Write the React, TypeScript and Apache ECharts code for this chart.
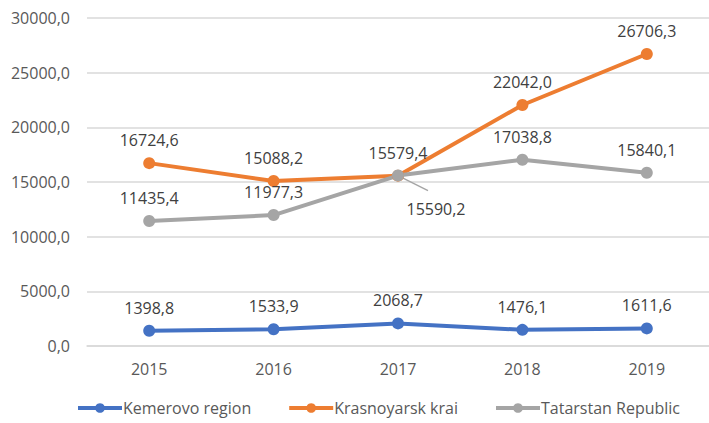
import React, { useEffect, useRef } from "react";
import * as echarts from "echarts";

const years = ["2015", "2016", "2017", "2018", "2019"];
const kemerovo = [1398.8, 1533.9, 2068.7, 1476.1, 1611.6];
const krasnoyarsk = [16724.6, 15088.2, 15579.4, 22042.0, 26706.3];
const tatarstan = [11435.4, 11977.3, 15590.2, 17038.8, 15840.1];
const seriesNames = ["Kemerovo region", "Krasnoyarsk krai", "Tatarstan Republic"];
const colors = ["#4472C4", "#ED7D31", "#A5A5A5"];
const movedLabelIndex = 2;

const FONT = "Open Sans";
const fmt = (v: number) => v.toFixed(1).replace(".", ",");

export default function App() {
  const ref = useRef<HTMLDivElement>(null);
  useEffect(() => {
    document.body.style.margin = "0";
    const chart = echarts.init(ref.current!, null, { renderer: "svg" });
    const mk = (name: string, data: any[], color: string) => ({
      name,
      type: "line",
      data,
      symbol: "circle",
      symbolSize: 12,
      lineStyle: { width: 4, color },
      itemStyle: { color },
      label: {
        show: true,
        position: "top",
        distance: 9,
        color: "#404040",
        fontFamily: FONT,
        fontSize: 16,
        formatter: (p: any) => fmt(p.value),
      },
      emphasis: { disabled: true },
    });
    const tatData = tatarstan.map((v, i) =>
      i === movedLabelIndex
        ? { value: v, label: { position: "bottom", offset: [38, 10] } }
        : v
    );
    chart.setOption({
      animation: false,
      color: colors,
      grid: { left: 87, top: 18, width: 629, height: 328, containLabel: false },
      xAxis: {
        type: "category",
        data: years,
        axisLine: { show: true, lineStyle: { color: "#D9D9D9", width: 1.5 } },
        axisTick: { show: false },
        axisLabel: { color: "#595959", fontFamily: FONT, fontSize: 16, margin: 15 },
      },
      yAxis: {
        type: "value",
        min: 0,
        max: 30000,
        interval: 5000,
        axisLine: { show: false },
        axisTick: { show: false },
        splitLine: { lineStyle: { color: "#D9D9D9", width: 1.5 } },
        axisLabel: {
          color: "#595959",
          fontFamily: FONT,
          fontSize: 16,
          margin: 17,
          formatter: (v: number) => fmt(v),
        },
      },
      legend: {
        top: 400,
        left: 76,
        padding: 0,
        itemWidth: 44,
        itemHeight: 12,
        itemGap: 36,
        lineStyle: { width: 4 },
        textStyle: { color: "#595959", fontFamily: FONT, fontSize: 16, padding: [0, 0, 0, -4] },
        data: seriesNames,
      },
      series: [
        mk(seriesNames[0], kemerovo, colors[0]),
        mk(seriesNames[1], krasnoyarsk, colors[1]),
        mk(seriesNames[2], tatData, colors[2]),
      ],
    });
    const p = chart.convertToPixel({ gridIndex: 0 }, [movedLabelIndex, tatarstan[movedLabelIndex]]);
    chart.setOption({
      graphic: [
        {
          type: "line",
          z: 1,
          shape: { x1: p[0], y1: p[1], x2: p[0] + 30, y2: p[1] + 15 },
          style: { stroke: "#A5A5A5", lineWidth: 1.5 },
        },
      ],
    });
    return () => chart.dispose();
  }, []);
  return (
    <div
      ref={ref}
      style={{ position: "absolute", left: 0, top: 0, width: 709, height: 423, background: "#fff" }}
    />
  );
}
